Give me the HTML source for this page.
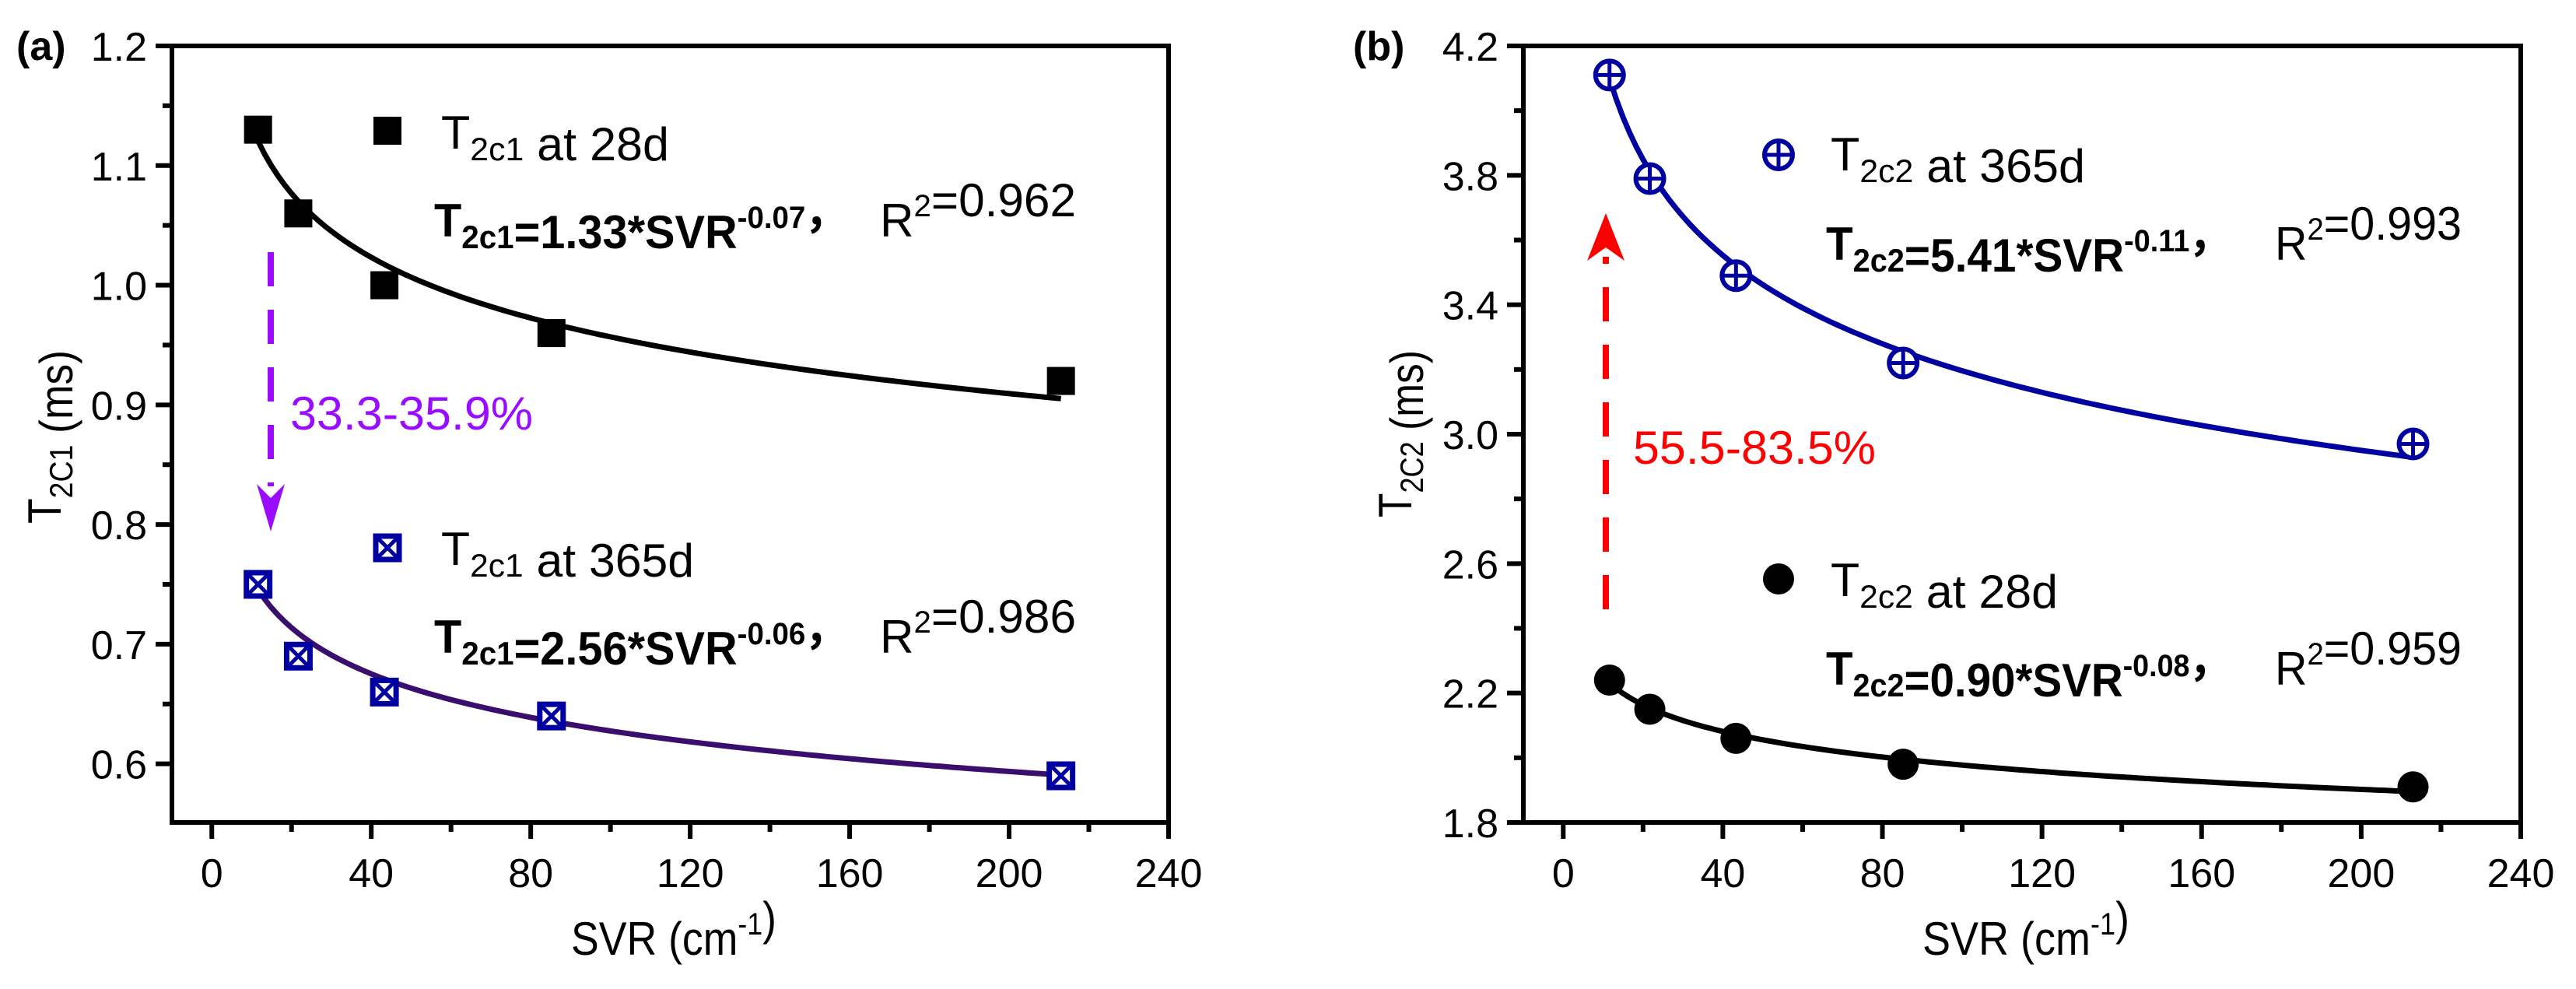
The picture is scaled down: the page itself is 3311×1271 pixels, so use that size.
<!DOCTYPE html>
<html><head><meta charset="utf-8">
<style>
html,body{margin:0;padding:0;background:#fff;}
svg{display:block;}
text{font-family:"Liberation Sans",sans-serif;}
</style></head>
<body>
<svg id="chart" width="3311" height="1271" viewBox="0 0 3311 1271" xmlns="http://www.w3.org/2000/svg"></svg>
<script>
// ---- data ----
const svrValues = [11.6, 21.7, 43.3, 85.2, 213];
const a28Values = [1.13, 1.06, 1.00, 0.96, 0.92];
const a365Values = [0.75, 0.69, 0.66, 0.64, 0.59];
const b365Values = [4.11, 3.79, 3.49, 3.22, 2.97];
const b28Values = [2.24, 2.15, 2.06, 1.98, 1.91];
const a28Fit = [1.341, -0.0733];
const a365Fit = [0.907, -0.080];
const b365Fit = [5.44, -0.1155];
const b28Fit = [2.558, -0.0559];
const xTickLabels = ["0","40","80","120","160","200","240"];
const aYTickLabels = ["0.6","0.7","0.8","0.9","1.0","1.1","1.2"];
const bYTickLabels = ["1.8","2.2","2.6","3.0","3.4","3.8","4.2"];

const NS = "http://www.w3.org/2000/svg";
const svg = document.getElementById('chart');
function mk(tag, attrs, parent){
  const e = document.createElementNS(NS, tag);
  for (const k in attrs) e.setAttribute(k, attrs[k]);
  (parent||svg).appendChild(e);
  return e;
}

function panel(cfg){
  const g = mk('g', {});
  
  
  const L=cfg.left, R=cfg.right, T=59, B=1057;
  const xs = v => L + (v - (-10)) / 250 * (R - L);
  const ys = v => B - (v - cfg.ymin) / (cfg.ymax - cfg.ymin) * (B - T);
  for (let v=0; v<=240; v+=20){
    const major = v%40===0;
    const t = mk('line', {x1:xs(v), x2:xs(v), y1:B, y2:B+(major?21:12), stroke:'#000','stroke-width':6}, g);
    
    
  }
  xTickLabels.forEach((lab,i)=>{
    const t = mk('text', {x:xs(+lab), y:1140, 'font-size':52, 'text-anchor':'middle', fill:'#000'}, g);
    t.textContent = lab;
    
    
  });
  const labs = cfg.yLabels;
  const y0 = +labs[0], step = (+labs[1]) - y0;
  for (let k=0; k<=(labs.length-1)*2; k++){
    const v = y0 + k*step/2;
    const major = k%2===0;
    const t = mk('line', {x1:L, x2:L-(major?21:12), y1:ys(v), y2:ys(v), stroke:'#000','stroke-width':6}, g);
    
    
  }
  labs.forEach(lab=>{
    const t = mk('text', {x:L-32, y:ys(+lab)+19, 'font-size':52, 'text-anchor':'end', fill:'#000'}, g);
    t.textContent = lab;
    
    
  });
  const fr = mk('rect', {x:L, y:T, width:R-L, height:B-T, fill:'none', stroke:'#000', 'stroke-width':6}, g);
  
  
  cfg.series.forEach(s=>{
    let d='';
    for (let i=0;i<=120;i++){
      const x = svrValues[0] + (svrValues[4]-svrValues[0])*i/120;
      const y = s.fit[0]*Math.pow(x, s.fit[1]);
      d += (i?'L':'M') + xs(x).toFixed(1) + ' ' + ys(y).toFixed(1);
    }
    const p = mk('path', {d:d, fill:'none', stroke:s.lineColor, 'stroke-width':7}, g);
    
    
    s.values.forEach((v,i)=>{
      const m = marker(g, s.marker, xs(svrValues[i]), ys(v));
      
      
    });
  });
  return g;
}

function marker(parent, type, cx, cy){
  const g = mk('g', {}, parent);
  const blue = '#0000a0';
  if (type==='square'){
    mk('rect', {x:cx-18, y:cy-18, width:36, height:36, fill:'#000'}, g);
  } else if (type==='xsquare'){
    mk('rect', {x:cx-15, y:cy-15, width:30, height:30, fill:'#fff', stroke:blue, 'stroke-width':7}, g);
    mk('path', {d:`M${cx-15} ${cy-15}L${cx+15} ${cy+15}M${cx+15} ${cy-15}L${cx-15} ${cy+15}`, stroke:blue, 'stroke-width':5}, g);
  } else if (type==='pcircle'){
    mk('circle', {cx:cx, cy:cy, r:18, fill:'#fff', stroke:blue, 'stroke-width':6}, g);
    mk('path', {d:`M${cx-18} ${cy}L${cx+18} ${cy}M${cx} ${cy-18}L${cx} ${cy+18}`, stroke:blue, 'stroke-width':5}, g);
  } else {
    mk('circle', {cx:cx, cy:cy, r:20, fill:'#000'}, g);
  }
  return g;
}

function addText(html, attrs, name){
  const t = mk('text', attrs);
  t.innerHTML = html;
  
  
  return t;
}

panel({name:'panel-a', left:221, right:1502, ymin:0.551, ymax:1.2, yLabels:aYTickLabels,
  series:[
    {name:'t2c1-28d', values:a28Values, fit:a28Fit, lineColor:'#000', marker:'square'},
    {name:'t2c1-365d', values:a365Values, fit:a365Fit, lineColor:'#3a0e6e', marker:'xsquare'}
  ]});
panel({name:'panel-b', left:1958, right:3240, ymin:1.8, ymax:4.2, yLabels:bYTickLabels,
  series:[
    {name:'t2c2-365d', values:b365Values, fit:b365Fit, lineColor:'#0000a0', marker:'pcircle'},
    {name:'t2c2-28d', values:b28Values, fit:b28Fit, lineColor:'#000', marker:'circle'}
  ]});

const sub = s => `<tspan font-size="42" dy="15">${s}</tspan><tspan dy="-15"></tspan>`;
const sup = s => `<tspan font-size="40" dy="-26">${s}</tspan><tspan dy="26"></tspan>`;

addText('(a)', {x:21, y:77, 'font-size':52, 'font-weight':'bold'}, 'panel-a-label');
addText('(b)', {x:1739, y:77, 'font-size':52, 'font-weight':'bold'}, 'panel-b-label');

let m;
m = marker(svg, 'square', 498, 168);  
addText('T'+sub('2c1')+' at 28d', {x:567, y:191, 'font-size':60, textLength:293, lengthAdjust:'spacingAndGlyphs'}, 'legend-entry-28d');
addText('T'+sub('2c1')+'=1.33*SVR'+sup('-0.07')+'，', {x:558, y:304, 'font-size':60, 'font-weight':'bold', textLength:535, lengthAdjust:'spacingAndGlyphs'}, 'equation-28d');
addText('R'+sup('2')+'=0.962', {x:1131, y:304, 'font-size':60, textLength:252, lengthAdjust:'spacingAndGlyphs'}, 'r-squared-28d');
m = marker(svg, 'xsquare', 498, 704);  
addText('T'+sub('2c1')+' at 365d', {x:567, y:726, 'font-size':60, textLength:325, lengthAdjust:'spacingAndGlyphs'}, 'legend-entry-365d');
addText('T'+sub('2c1')+'=2.56*SVR'+sup('-0.06')+'，', {x:558, y:839, 'font-size':60, 'font-weight':'bold', textLength:535, lengthAdjust:'spacingAndGlyphs'}, 'equation-365d');
addText('R'+sup('2')+'=0.986', {x:1131, y:839, 'font-size':60, textLength:252, lengthAdjust:'spacingAndGlyphs'}, 'r-squared-365d');

let ar = mk('g', {});
 
mk('line', {x1:348, y1:324, x2:348, y2:625, stroke:'#9a0cff', 'stroke-width':8, 'stroke-dasharray':'44 30'}, ar);
mk('path', {d:'M330 622 L348 640 L366 622 L348 683 Z', fill:'#9a0cff'}, ar);
addText('33.3-35.9%', {x:373, y:552, 'font-size':60, fill:'#9a0cff', textLength:312, lengthAdjust:'spacingAndGlyphs'}, 'decrease-percent-label');

m = marker(svg, 'pcircle', 2286, 199);  
addText('T'+sub('2c2')+' at 365d', {x:2353, y:219, 'font-size':60, textLength:327, lengthAdjust:'spacingAndGlyphs'}, 'legend-entry-b365d');
addText('T'+sub('2c2')+'=5.41*SVR'+sup('-0.11')+'，', {x:2347, y:334, 'font-size':60, 'font-weight':'bold', textLength:524, lengthAdjust:'spacingAndGlyphs'}, 'equation-b365d');
addText('R'+sup('2')+'=0.993', {x:2924, y:334, 'font-size':60, textLength:240, lengthAdjust:'spacingAndGlyphs'}, 'r-squared-b365d');
m = marker(svg, 'circle', 2286, 744);  
addText('T'+sub('2c2')+' at 28d', {x:2353, y:766, 'font-size':60, textLength:292, lengthAdjust:'spacingAndGlyphs'}, 'legend-entry-b28d');
addText('T'+sub('2c2')+'=0.90*SVR'+sup('-0.08')+'，', {x:2347, y:880, 'font-size':60, 'font-weight':'bold', textLength:524, lengthAdjust:'spacingAndGlyphs'}, 'equation-b28d');
addText('R'+sup('2')+'=0.959', {x:2924, y:880, 'font-size':60, textLength:240, lengthAdjust:'spacingAndGlyphs'}, 'r-squared-b28d');

ar = mk('g', {});
 
mk('line', {x1:2064, y1:783, x2:2064, y2:330, stroke:'#ff0000', 'stroke-width':8, 'stroke-dasharray':'44 30'}, ar);
mk('path', {d:'M2064 274 L2088 335 L2064 318 L2040 335 Z', fill:'#ff0000'}, ar);
addText('55.5-83.5%', {x:2099, y:596, 'font-size':60, fill:'#ff0000', textLength:312, lengthAdjust:'spacingAndGlyphs'}, 'increase-percent-label');

addText('SVR (cm'+sup('-1')+')', {x:734, y:1227, 'font-size':60, textLength:264, lengthAdjust:'spacingAndGlyphs'}, 'x-axis-title-a');
addText('SVR (cm'+sup('-1')+')', {x:2471, y:1227, 'font-size':60, textLength:266, lengthAdjust:'spacingAndGlyphs'}, 'x-axis-title-b');
addText('T'+sub('2C1')+' (ms)', {x:0, y:0, 'font-size':60, transform:'translate(78,673) rotate(-90)', textLength:223, lengthAdjust:'spacingAndGlyphs'}, 'y-axis-title-a');
addText('T'+sub('2C2')+' (ms)', {x:0, y:0, 'font-size':60, transform:'translate(1814,665) rotate(-90)', textLength:215, lengthAdjust:'spacingAndGlyphs'}, 'y-axis-title-b');
</script>
</body></html>
